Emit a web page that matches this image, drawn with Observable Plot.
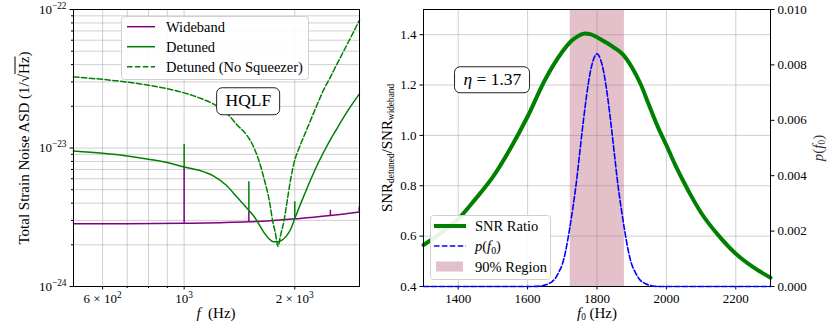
<!DOCTYPE html>
<html>
<head>
<meta charset="utf-8">
<script src="https://cdn.jsdelivr.net/npm/d3@7"></script>
<script src="https://cdn.jsdelivr.net/npm/@observablehq/plot@0.6"></script>
<style>
html,body{margin:0;padding:0;background:#fff;}
#wrap{position:relative;width:830px;height:324px;overflow:hidden;font-family:"Liberation Serif","Times New Roman",serif;color:#000;}
#wrap svg{position:absolute;top:0;}
.lbl{position:absolute;white-space:nowrap;transform:translate(-50%,-50%);font-size:15px;line-height:1;}
.rot{transform:translate(-50%,-50%) rotate(-90deg);}
.box{position:absolute;white-space:nowrap;transform:translate(-50%,-50%);font-size:17.5px;line-height:1;background:#fff;border:1.1px solid #222;border-radius:6px;padding:4px 8px;}
.lbl sub{font-size:0.62em;vertical-align:-0.3em;line-height:0;}
.ol{text-decoration:overline;}
</style>
</head>
<body>
<div id="wrap"></div>
<script>
// ---------------- data ----------------
// Left panel: total strain noise ASD vs frequency
const wbFreq = [500, 700, 1000, 1250, 1500, 1750, 2000, 2250, 2500, 2750, 3000];
const wbAsd  = [2.84e-24, 2.84e-24, 2.86e-24, 2.89e-24, 2.93e-24, 3.0e-24, 3.08e-24, 3.16e-24, 3.25e-24, 3.35e-24, 3.45e-24];
const wbSpikeFreq = [1000, 1500, 2500, 2995];
const wbSpikeLow  = [2.86e-24, 2.93e-24, 3.25e-24, 3.45e-24];
const wbSpikeHigh = [7.3e-24, 3.5e-24, 3.55e-24, 3.75e-24];

const detFreq = [500, 600, 700, 800, 900, 1000, 1100, 1200, 1300, 1400, 1500, 1550, 1600, 1650, 1700, 1750, 1800, 1850, 1900, 1950, 2000, 2050, 2100, 2200, 2300, 2400, 2500, 2600, 2700, 2800, 2900, 3000];
const detAsd  = [9.5e-24, 9.15e-24, 8.75e-24, 8.3e-24, 7.85e-24, 7.3e-24, 6.9e-24, 6.3e-24, 5.4e-24, 4.35e-24, 3.55e-24, 3.2e-24, 2.8e-24, 2.45e-24, 2.22e-24, 2.1e-24, 2.1e-24, 2.17e-24, 2.32e-24, 2.6e-24, 3.1e-24, 3.66e-24, 4.28e-24, 5.75e-24, 7.5e-24, 9.4e-24, 1.15e-23, 1.37e-23, 1.62e-23, 1.89e-23, 2.17e-23, 2.46e-23];
const detSpikeFreq = [1000, 1500, 2000];
const detSpikeLow  = [7.3e-24, 3.55e-24, 3.1e-24];
const detSpikeHigh = [1.06e-23, 5.7e-24, 4.1e-24];

const nsqFreq = [500, 600, 700, 800, 900, 1000, 1100, 1200, 1300, 1400, 1480, 1550, 1600, 1650, 1710, 1740, 1770, 1800, 1830, 1870, 1900, 1950, 2000, 2055, 2100, 2200, 2300, 2400, 2500, 2600, 2700, 2800, 2900, 3000];
const nsqAsd  = [3.26e-23, 3.13e-23, 2.99e-23, 2.84e-23, 2.68e-23, 2.5e-23, 2.3e-23, 2.08e-23, 1.8e-23, 1.45e-23, 1.24e-23, 1.0e-23, 8.0e-24, 6.0e-24, 4.0e-24, 3.0e-24, 2.45e-24, 1.95e-24, 2.35e-24, 3.0e-24, 3.9e-24, 6.0e-24, 8.2e-24, 1.0e-23, 1.15e-23, 1.55e-23, 2.05e-23, 2.65e-23, 3.25e-23, 4.0e-23, 4.85e-23, 5.85e-23, 7.0e-23, 8.4e-23];

const leftSeriesNames = ["Wideband", "Detuned", "Detuned (No Squeezer)"];
const leftXDomain = [500, 3000];
const leftYDomain = [1e-24, 1e-22];
const leftXMajor = [600, 1000, 2000];
const leftXMajorLabels = ["6 × 10^2", "10^3", "2 × 10^3"];
const leftXMinor = [700, 800, 900];
const leftXGrid = [600, 700, 800, 900, 1000, 2000];
const leftYMajor = [1e-24, 1e-23, 1e-22];
const leftYMajorLabels = ["10^−24", "10^−23", "10^−22"];
const leftYMinor = [2e-24, 3e-24, 4e-24, 5e-24, 6e-24, 7e-24, 8e-24, 9e-24, 2e-23, 3e-23, 4e-23, 5e-23, 6e-23, 7e-23, 8e-23, 9e-23];
const hqlfText = "HQLF";
const hqlfAt = [1500, 2.15e-23];

// Right panel: SNR ratio and p(f0)
const snrF0    = [1300, 1350, 1400, 1450, 1500, 1550, 1600, 1650, 1700, 1725, 1750, 1765, 1780, 1800, 1825, 1850, 1875, 1900, 1925, 1950, 1975, 2000, 2025, 2050, 2075, 2100, 2150, 2200, 2250, 2300];
const snrRatio = [0.565, 0.612, 0.668, 0.748, 0.835, 0.947, 1.075, 1.22, 1.332, 1.374, 1.398, 1.405, 1.402, 1.39, 1.37, 1.348, 1.321, 1.272, 1.206, 1.12, 1.035, 0.961, 0.884, 0.815, 0.751, 0.693, 0.603, 0.53, 0.477, 0.435];

const pF0  = [1300, 1600, 1640, 1650, 1660, 1670, 1680, 1690, 1700, 1710, 1720, 1730, 1740, 1750, 1760, 1770, 1780, 1790, 1800, 1810, 1820, 1830, 1840, 1850, 1860, 1870, 1880, 1890, 1900, 1910, 1920, 1930, 1940, 1950, 1960, 1980, 2300];
const pVal = [0, 0, 0.00002, 0.00005, 0.0001, 0.00017, 0.0003, 0.00052, 0.0008, 0.0013, 0.002, 0.0028, 0.0037, 0.0048, 0.0059, 0.0069, 0.0077, 0.0082, 0.0084, 0.0082, 0.0077, 0.0069, 0.0059, 0.0048, 0.0037, 0.0028, 0.002, 0.0013, 0.0008, 0.00052, 0.0003, 0.00017, 0.0001, 0.00005, 0.00002, 0, 0];

const regionLo = [1723];
const regionHi = [1879];
const rightSeriesNames = ["SNR Ratio", "p(f0)", "90% Region"];
const etaText = "η = 1.37";
const etaAt = [1500, 1.219];
const rightXDomain = [1300, 2300];
const rightYDomain = [0.4, 1.5];
const pDomain = [0, 0.01];
const rightXTicks = [1400, 1600, 1800, 2000, 2200];
const rightYTicks = [0.4, 0.6, 0.8, 1.0, 1.2, 1.4];
const pTicks = [0, 0.002, 0.004, 0.006, 0.008, 0.010];

// ---------------- build tables ----------------
const zip = (xs, ys) => xs.map((x, i) => ({f: x, v: ys[i]}));
const spikes = (fs, lo, hi) => fs.map((f, i) => ({f, lo: lo[i], hi: hi[i]}));
const wb = zip(wbFreq, wbAsd);
const det = zip(detFreq, detAsd);
const nsq = zip(nsqFreq, nsqAsd);
const wbSp = spikes(wbSpikeFreq, wbSpikeLow, wbSpikeHigh);
const detSp = spikes(detSpikeFreq, detSpikeLow, detSpikeHigh);
const snr = zip(snrF0, snrRatio);
const pdat = zip(pF0, pVal);
const region = regionLo.map((lo, i) => ({lo, hi: regionHi[i], b: rightYDomain[0], t: rightYDomain[1]}));
const labelOf = (ticks, labels) => d => labels[ticks.indexOf(d)];

const FONT = '"Liberation Serif", "Times New Roman", serif';
const GRID = {stroke: "#b0b0b0", strokeOpacity: 0.6, strokeWidth: 1};
const PURPLE = "#800080", GREEN = "#008000", BLUE = "#0000ff";
const DASH = "5.5,2.4";
const wrap = document.getElementById("wrap");

// ---------------- left panel ----------------
const leftPlot = Plot.plot({
  width: 370, height: 324,
  marginLeft: 73, marginRight: 11, marginTop: 9, marginBottom: 38,
  x: {type: "log", domain: leftXDomain},
  y: {type: "log", domain: leftYDomain},
  style: {fontFamily: FONT, fontSize: "13px", color: "#000", background: "#fff"},
  marks: [
    Plot.gridX(leftXGrid, GRID),
    Plot.gridY(leftYMajor.concat(leftYMinor), GRID),
    Plot.line(wb, {x: "f", y: "v", stroke: PURPLE, strokeWidth: 1.5, curve: "monotone-x"}),
    Plot.ruleX(wbSp, {x: "f", y1: "lo", y2: "hi", stroke: PURPLE, strokeWidth: 1.5}),
    Plot.line(det, {x: "f", y: "v", stroke: GREEN, strokeWidth: 1.5, curve: "monotone-x"}),
    Plot.ruleX(detSp, {x: "f", y1: "lo", y2: "hi", stroke: GREEN, strokeWidth: 1.5}),
    Plot.line(nsq, {x: "f", y: "v", stroke: GREEN, strokeWidth: 1.5, strokeDasharray: DASH, curve: "monotone-x"}),
    Plot.frame({stroke: "#000"}),
    Plot.axisX(leftXMajor, {tickFormat: () => "", tickSize: 3.5, label: null}),
    Plot.text(leftXMajor, {x: d => d, text: labelOf(leftXMajor, leftXMajorLabels), frameAnchor: "bottom", lineAnchor: "top", dy: 7, fontSize: 13}),
    Plot.axisX(leftXMinor, {tickFormat: () => "", tickSize: 2, label: null}),
    Plot.axisY(leftYMajor, {tickFormat: labelOf(leftYMajor, leftYMajorLabels), tickSize: 3.5, tickPadding: 3.5, label: null, fontSize: 13}),
    Plot.axisY(leftYMinor, {tickFormat: () => "", tickSize: 2, label: null})
  ]
});
leftPlot.style.left = "0px";
wrap.appendChild(leftPlot);

// ---------------- right panel (left axis) ----------------
const RDIM = {width: 460, height: 324, marginLeft: 53, marginRight: 60, marginTop: 9, marginBottom: 38};
const rightPlot = Plot.plot({
  ...RDIM,
  x: {domain: rightXDomain},
  y: {domain: rightYDomain},
  style: {fontFamily: FONT, fontSize: "13px", color: "#000", background: "#fff"},
  marks: [
    Plot.gridX(rightXTicks, GRID),
    Plot.gridY(rightYTicks, GRID),
    Plot.rect(region, {x1: "lo", x2: "hi", y1: "b", y2: "t", fill: "#b5506c", fillOpacity: 0.36}),
    Plot.line(snr, {x: "f", y: "v", stroke: GREEN, strokeWidth: 4, curve: "monotone-x"}),
    Plot.frame({stroke: "#000"}),
    Plot.axisX(rightXTicks, {tickFormat: d => String(d), tickSize: 3.5, tickPadding: 3.5, label: null, fontSize: 13}),
    Plot.axisY(rightYTicks, {tickFormat: d => d.toFixed(1), tickSize: 3.5, tickPadding: 3.5, label: null, fontSize: 13})
  ]
});
rightPlot.style.left = "370px";
wrap.appendChild(rightPlot);

// ---------------- right panel (p(f0) twin axis) ----------------
const pPlot = Plot.plot({
  ...RDIM,
  x: {domain: rightXDomain, axis: null},
  y: {domain: pDomain},
  style: {fontFamily: FONT, fontSize: "13px", color: "#000", background: "transparent"},
  marks: [
    Plot.line(pdat, {x: "f", y: "v", stroke: BLUE, strokeWidth: 1.6, strokeDasharray: DASH, curve: "monotone-x"}),
    Plot.axisY(pTicks, {anchor: "right", tickFormat: d => d.toFixed(3), tickSize: 3.5, tickPadding: 3.5, label: null, fontSize: 13})
  ]
});
pPlot.style.left = "370px";
wrap.appendChild(pPlot);

// superscripts in tick labels (10^n)
d3.select(leftPlot).selectAll("text").each(function() {
  const t = this.textContent;
  const m = t.match(/^(.*?)10\^(.+)$/);
  if (m) {
    const sel = d3.select(this);
    sel.text(null);
    sel.append("tspan").text(m[1] + "10");
    sel.append("tspan").attr("dy", "-0.55em").attr("font-size", "0.72em").text(m[2]);
  }
});

// ---------------- overlay: legends ----------------
const ov = d3.select(wrap).append("svg")
  .attr("width", 830).attr("height", 324)
  .style("left", "0px").style("font-family", FONT).style("font-size", "14.5px");

function legendFrame(x, y, w, h) {
  ov.append("rect").attr("x", x).attr("y", y).attr("width", w).attr("height", h)
    .attr("rx", 3).attr("fill", "#fff").attr("fill-opacity", 0.9).attr("stroke", "#d0d0d0").attr("stroke-width", 1);
}
function legendLine(x1, x2, y, color, w, dash) {
  const l = ov.append("line").attr("x1", x1).attr("x2", x2).attr("y1", y).attr("y2", y)
    .attr("stroke", color).attr("stroke-width", w);
  if (dash) l.attr("stroke-dasharray", dash);
}
function legendText(x, y, s) {
  return ov.append("text").attr("x", x).attr("y", y).attr("dy", "0.35em").text(s);
}

// left legend
legendFrame(121.5, 16.5, 187, 63);
legendLine(127, 155, 26.7, PURPLE, 1.5);
legendText(166, 26.7, leftSeriesNames[0]);
legendLine(127, 155, 46.7, GREEN, 1.5);
legendText(166, 46.7, leftSeriesNames[1]);
legendLine(127, 155, 66.7, GREEN, 1.5, DASH);
legendText(166, 66.7, leftSeriesNames[2]);

// right legend
legendFrame(430.5, 215.5, 120, 64);
legendLine(434, 466, 226, GREEN, 4);
legendText(475, 226, rightSeriesNames[0]);
legendLine(434, 466, 246, BLUE, 1.6, DASH);
const pt = ov.append("text").attr("x", 475).attr("y", 246).attr("dy", "0.35em");
pt.append("tspan").attr("font-style", "italic").text("p");
pt.append("tspan").text("(");
pt.append("tspan").attr("font-style", "italic").text("f");
pt.append("tspan").attr("font-size", "0.68em").attr("dy", "0.3em").text("0");
pt.append("tspan").attr("dy", "-0.2em").text(")");
ov.append("rect").attr("x", 436).attr("y", 261.5).attr("width", 27).attr("height", 10)
  .attr("fill", "#b5506c").attr("fill-opacity", 0.36);
legendText(475, 266.7, rightSeriesNames[2]);

// ---------------- annotation boxes (positioned by the plots' scales) ----------------
function addBox(html, plot, offX, at) {
  const d = document.createElement("div");
  d.className = "box";
  d.innerHTML = html;
  d.style.left = (offX + plot.scale("x").apply(at[0])) + "px";
  d.style.top = plot.scale("y").apply(at[1]) + "px";
  wrap.appendChild(d);
}
addBox(hqlfText, leftPlot, 0, hqlfAt);
addBox('<i>η</i>' + etaText.slice(1), rightPlot, 370, etaAt);

// ---------------- axis titles ----------------
function addLabel(html, x, y, rot, extraStyle) {
  const d = document.createElement("div");
  d.className = "lbl" + (rot ? " rot" : "");
  d.innerHTML = html;
  d.style.left = x + "px";
  d.style.top = y + "px";
  if (extraStyle) d.setAttribute("style", d.getAttribute("style") + ";" + extraStyle);
  wrap.appendChild(d);
}
addLabel('Total Strain Noise ASD (1/√<span class="ol">Hz</span>)', 24, 148, true);
addLabel('<i>f</i>&nbsp;&nbsp;(Hz)', 216, 313, false);
addLabel('SNR<sub>detuned</sub>/SNR<sub>wideband</sub>', 387, 148, true);
addLabel('<i>f</i><sub>0</sub> (Hz)', 597, 313, false);
addLabel('<i>p</i>(<i>f</i><sub>0</sub>)', 818, 148, true, "color:#333");
</script>
</body>
</html>
